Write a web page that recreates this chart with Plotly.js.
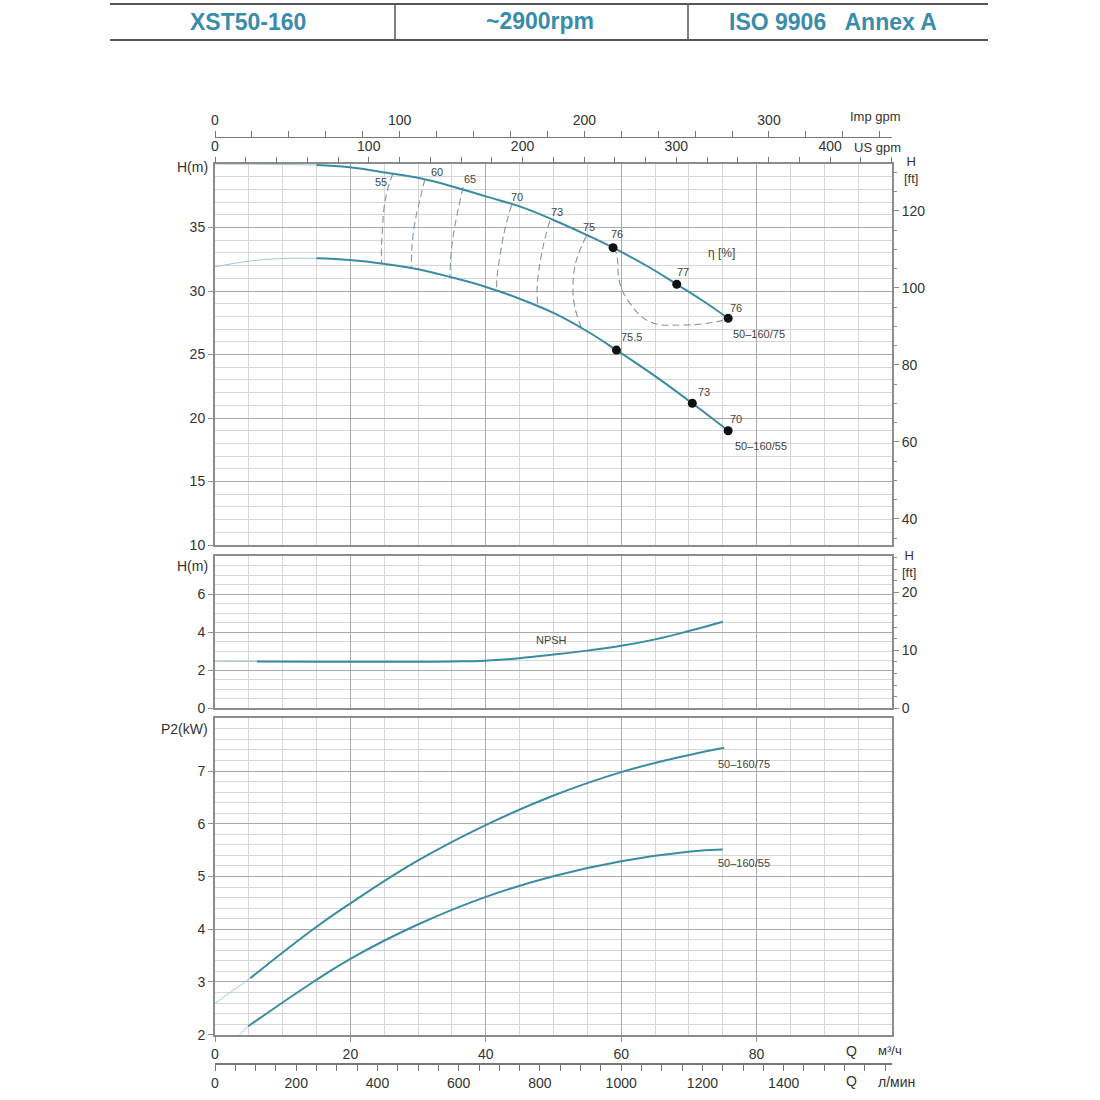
<!DOCTYPE html>
<html>
<head>
<meta charset="utf-8">
<script src="https://cdn.plot.ly/plotly-3.0.1.min.js"></script>
<style>
  html, body { margin: 0; padding: 0; background: #fff; }
  #chart { width: 1100px; height: 1100px; }
</style>
</head>
<body>
<div id="chart"></div>
<script>
// Q in m3/h for every series

// Q-H curves
const qH75Thin = [0, 5, 10, 15];
const hH75Thin = [40.0, 39.99, 39.96, 39.92];
const qH75 = [15, 19.9, 25.4, 30.3, 35.2, 40.1, 45.1, 50.0, 54.9, 58.8, 64.2, 68.2, 72, 75.8];
const hH75 = [39.92, 39.74, 39.31, 38.87, 38.21, 37.43, 36.64, 35.59, 34.41, 33.41, 31.85, 30.53, 29.25, 27.85];

const qH55Thin = [0, 5.2, 10, 15];
const hH55Thin = [31.9, 32.36, 32.56, 32.57];
const qH55 = [15, 19.9, 25.1, 30, 34.9, 39.9, 44.8, 50, 54.9, 59.3, 65, 70.5, 75.8];
const hH55 = [32.57, 32.44, 32.13, 31.71, 31.08, 30.34, 29.43, 28.27, 26.85, 25.35, 23.3, 21.16, 19.0];

// efficiency points on the curves
const pt75Q = [58.8, 68.2, 75.8];
const pt75H = [33.41, 30.53, 27.85];
const pt55Q = [59.3, 70.5, 75.8];
const pt55H = [25.35, 21.16, 19.0];

// iso-efficiency lines
const iso55Q = [26.3, 25.6, 25.0, 24.75, 24.6, 24.6];
const iso55H = [39.27, 38.21, 36.64, 35.06, 33.49, 32.18];
const iso60Q = [31.0, 30.26, 29.5, 29.1, 29.0];
const iso60H = [38.8, 37.17, 35.33, 33.49, 31.87];
const iso65Q = [36.65, 35.9, 35.17, 34.8, 34.7];
const iso65H = [38.17, 36.38, 34.28, 32.44, 31.08];
const iso70Q = [43.8, 42.8, 42.07, 41.67, 41.58];
const iso70H = [36.77, 34.8, 32.7, 31.13, 29.94];
const iso73Q = [49.45, 48.46, 47.72, 47.57, 47.72];
const iso73H = [35.51, 33.49, 31.13, 29.82, 28.64];
const iso75Q = [54.86, 53.39, 52.89, 53.14, 54.36];
const iso75H = [34.33, 32.44, 30.61, 28.76, 26.8];
const iso76Q = [58.8, 59.3, 59.8, 61.3, 64.2, 69.1, 74.1, 75.8];
const iso76H = [33.41, 32.97, 30.61, 29.03, 27.58, 27.32, 27.58, 27.85];

// top panel labels
const effLabelText = ['55', '60', '65', '70', '73', '75', '76', '77', '76', '75.5', '73', '70'];
const effLabelQ = [24.5, 32.77, 37.64, 44.58, 50.48, 55.2, 59.34, 69.2, 76.9, 61.5, 72.2, 76.9];
const effLabelH = [38.58, 39.37, 38.82, 37.4, 36.22, 35.04, 34.49, 31.5, 28.66, 26.4, 22.05, 19.9];

// NPSH
const qNpshThin = [0, 3, 6.2];
const hNpshThin = [2.47, 2.46, 2.46];
const qNpsh = [6.2, 15, 25, 35, 40, 45, 50, 55, 60, 65, 70, 75];
const hNpsh = [2.46, 2.45, 2.45, 2.46, 2.5, 2.63, 2.82, 3.03, 3.28, 3.62, 4.06, 4.55];

// P2 power
const qP75Thin = [0, 5.2];
const pP75Thin = [2.595, 3.07];
const qP75 = [5.2, 14.5, 20, 29.8, 39.9, 50.1, 60, 69.9, 75.2];
const pP75 = [3.07, 4.0, 4.49, 5.29, 5.97, 6.54, 6.98, 7.30, 7.44];
const qP55Thin = [3.5, 4.9];
const pP55Thin = [1.98, 2.16];
const qP55 = [4.9, 14.5, 20, 29.8, 39.9, 50.1, 60, 69.9, 75];
const pP55 = [2.16, 3.0, 3.44, 4.08, 4.61, 5.01, 5.29, 5.47, 5.51];

// tick labels
const qTicks = [0, 20, 40, 60, 80];
const hTicks = [10, 15, 20, 25, 30, 35];
const hFtTicks = [40, 60, 80, 100, 120];
const npshTicks = [0, 2, 4, 6];
const npshFtTicks = [0, 10, 20];
const pTicks = [2, 3, 4, 5, 6, 7];
const usTicks = [0, 100, 200, 300, 400];
const impTicks = [0, 100, 200, 300];
const lminTicks = [0, 200, 400, 600, 800, 1000, 1200, 1400];

// unit conversions
const US_GPM = 4.4029, IMP_GPM = 3.6662, L_MIN = 16.6667, FT = 3.28084;
const Q_MAX = 100;

const CURVE = '#3a8ca3';
const THIN = '#9ccad6';
const DASH = '#7d98a6';
const GRID_MAJ = '#a9a9a9';
const GRID_MIN = '#d6d6d6';
const BORDER = '#8c8c8c';
const TXT = '#333';
const FONT = 'Liberation Sans, Arial, sans-serif';

const px = v => v / 1100;
const py = v => 1 - v / 1100;

function curve(x, y, xa, ya, width, color, dash) {
  return {
    x: x, y: y, xaxis: xa, yaxis: ya, type: 'scatter', mode: 'lines',
    line: { color: color, width: width, dash: dash || 'solid', shape: 'spline', smoothing: 1.2 },
    hoverinfo: 'skip', showlegend: false
  };
}
function empty(xa, ya) {
  return { x: [], y: [], xaxis: xa, yaxis: ya, type: 'scatter', mode: 'lines', hoverinfo: 'skip', showlegend: false };
}

const isoDash = '7px,4px';
const traces = [
  curve(iso55Q, iso55H, 'x', 'y', 1.1, DASH, isoDash),
  curve(iso60Q, iso60H, 'x', 'y', 1.1, DASH, isoDash),
  curve(iso65Q, iso65H, 'x', 'y', 1.1, DASH, isoDash),
  curve(iso70Q, iso70H, 'x', 'y', 1.1, DASH, isoDash),
  curve(iso73Q, iso73H, 'x', 'y', 1.1, DASH, isoDash),
  curve(iso75Q, iso75H, 'x', 'y', 1.1, DASH, isoDash),
  curve(iso76Q, iso76H, 'x', 'y', 1.1, DASH, isoDash),
  curve(qH75Thin, hH75Thin, 'x', 'y', 1, THIN),
  curve(qH75, hH75, 'x', 'y', 2, CURVE),
  curve(qH55Thin, hH55Thin, 'x', 'y', 1, THIN),
  curve(qH55, hH55, 'x', 'y', 2, CURVE),
  {
    x: pt75Q.concat(pt55Q), y: pt75H.concat(pt55H), xaxis: 'x', yaxis: 'y',
    type: 'scatter', mode: 'markers', marker: { color: '#111', size: 9 },
    hoverinfo: 'skip', showlegend: false
  },
  curve(qNpshThin, hNpshThin, 'x2', 'y2', 1, THIN),
  curve(qNpsh, hNpsh, 'x2', 'y2', 2, CURVE),
  curve(qP75Thin, pP75Thin, 'x3', 'y3', 1, THIN),
  curve(qP75, pP75, 'x3', 'y3', 2, CURVE),
  curve(qP55Thin, pP55Thin, 'x3', 'y3', 1, THIN),
  curve(qP55, pP55, 'x3', 'y3', 2, CURVE),
  empty('x4', 'y'), empty('x5', 'y'), empty('x6', 'y3'),
  empty('x', 'y4'), empty('x2', 'y5')
];

const xDomain = [px(215), px(892)];
const tickFont = { family: FONT, size: 14, color: TXT };

function qAxis(anchor, labels) {
  return {
    domain: xDomain, range: [0, Q_MAX], anchor: anchor,
    tickmode: 'array', tickvals: qTicks, showticklabels: labels,
    ticks: labels ? 'outside' : '', ticklen: 5, tickcolor: BORDER,
    tickfont: tickFont, showgrid: true, gridcolor: GRID_MAJ, gridwidth: 1,
    minor: { tickmode: 'linear', tick0: 0, dtick: 5, showgrid: true, gridcolor: GRID_MIN, gridwidth: 1, ticks: '' },
    showline: true, mirror: true, linecolor: BORDER, linewidth: 2, zeroline: false, fixedrange: true
  };
}
function leftAxis(domain, range, vals, minorStep, anchor) {
  return {
    domain: domain, range: range, anchor: anchor,
    tickmode: 'array', tickvals: vals, ticks: 'outside', ticklen: 5, tickcolor: BORDER,
    tickfont: tickFont, showgrid: true, gridcolor: GRID_MAJ, gridwidth: 1,
    minor: { tickmode: 'linear', tick0: 0, dtick: minorStep, showgrid: true, gridcolor: GRID_MIN, gridwidth: 1, ticks: '' },
    showline: true, mirror: true, linecolor: BORDER, linewidth: 2, zeroline: false, fixedrange: true
  };
}
function rightAxis(over, anchor, range, vals, minorStep) {
  return {
    overlaying: over, anchor: anchor, side: 'right', range: range,
    tickmode: 'array', tickvals: vals, ticks: 'outside', ticklen: 6, tickcolor: BORDER,
    tickfont: tickFont, showgrid: false, showline: false, zeroline: false,
    minor: { tickmode: 'linear', tick0: 0, dtick: minorStep, ticks: 'outside', ticklen: 4, tickcolor: BORDER, showgrid: false },
    fixedrange: true
  };
}
function flowAxis(over, range, vals, minorStep, side, anchor, position) {
  const a = {
    overlaying: over, side: side, range: range, domain: xDomain,
    tickmode: 'array', tickvals: vals, ticks: 'outside', ticklen: 6, tickcolor: '#777',
    tickfont: tickFont, showgrid: false, zeroline: false,
    minor: { tickmode: 'linear', tick0: 0, dtick: minorStep, ticks: 'outside', ticklen: 6, tickcolor: '#777', showgrid: false },
    fixedrange: true, anchor: anchor
  };
  if (anchor === 'free') {
    a.position = position;
    a.showline = true; a.linecolor = '#777'; a.linewidth = 1.5;
  } else {
    a.showline = false;
  }
  return a;
}

const xMid = qAxis('y2', false);
xMid.matches = 'x';
const xBot = qAxis('y3', true);
xBot.matches = 'x';

function ann(text, x, y, opts) {
  return Object.assign({
    text: text, x: x, y: y, xref: 'paper', yref: 'paper', showarrow: false,
    font: { family: FONT, size: 13, color: TXT }, xanchor: 'center', yanchor: 'middle'
  }, opts || {});
}

const annotations = [];
// header
const headFont = { family: FONT, size: 23, color: '#3a8cab' };
annotations.push(ann('<b>XST50-160</b>', px(248), py(22), { font: headFont }));
annotations.push(ann('<b>~2900rpm</b>', px(540), py(21), { font: headFont }));
annotations.push(ann('<b>ISO 9906   Annex A</b>', px(833), py(22), { font: headFont }));
// axis unit labels
const labFont = { family: FONT, size: 14, color: TXT };
annotations.push(ann('Imp gpm', px(875), py(117)));
annotations.push(ann('US gpm', px(877), py(148)));
annotations.push(ann('H(m)', px(210), py(167), { xanchor: 'right', font: labFont }));
annotations.push(ann('H<br>[ft]', px(911), py(170)));
annotations.push(ann('H(m)', px(210), py(566), { xanchor: 'right', font: labFont }));
annotations.push(ann('H<br>[ft]', px(909), py(564)));
annotations.push(ann('P2(kW)', px(210), py(729), { xanchor: 'right', font: labFont }));
annotations.push(ann('Q', px(851), py(1051), { font: tickFont }));
annotations.push(ann('м³/ч', px(890), py(1050)));
annotations.push(ann('Q', px(851), py(1081), { font: tickFont }));
annotations.push(ann('л/мин', px(896), py(1082), { font: tickFont }));

// curve labels in data coords
const smallFont = { family: FONT, size: 11, color: '#444' };
effLabelText.forEach((t, i) => {
  annotations.push({
    text: t, x: effLabelQ[i], y: effLabelH[i], xref: 'x', yref: 'y', showarrow: false, font: smallFont
  });
});
annotations.push({ text: 'η [%]', x: 74.8, y: 33.0, xref: 'x', yref: 'y', showarrow: false, font: { family: FONT, size: 12, color: '#444' } });
annotations.push({ text: '50–160/75', x: 80.3, y: 26.6, xref: 'x', yref: 'y', showarrow: false, font: smallFont });
annotations.push({ text: '50–160/55', x: 80.6, y: 17.8, xref: 'x', yref: 'y', showarrow: false, font: smallFont });
annotations.push({ text: 'NPSH', x: 49.7, y: 3.59, xref: 'x2', yref: 'y2', showarrow: false, font: smallFont });
annotations.push({ text: '50–160/75', x: 78.1, y: 7.14, xref: 'x3', yref: 'y3', showarrow: false, font: smallFont });
annotations.push({ text: '50–160/55', x: 78.1, y: 5.26, xref: 'x3', yref: 'y3', showarrow: false, font: smallFont });

const hline = (x0, x1, y, w) => ({ type: 'line', xref: 'paper', yref: 'paper', x0: px(x0), x1: px(x1), y0: py(y), y1: py(y), line: { color: '#555', width: w } });
const vline = (x, y0, y1, w) => ({ type: 'line', xref: 'paper', yref: 'paper', x0: px(x), x1: px(x), y0: py(y0), y1: py(y1), line: { color: '#555', width: w } });
const shapes = [hline(110, 988, 4, 2), hline(110, 988, 40, 2), vline(395, 4, 40, 1.5), vline(688, 4, 40, 1.5)];

const layout = {
  width: 1100, height: 1100,
  margin: { l: 0, r: 0, t: 0, b: 0 },
  paper_bgcolor: '#fff', plot_bgcolor: '#fff',
  showlegend: false, hovermode: false,
  font: { family: FONT, size: 13, color: TXT },
  xaxis: qAxis('y', false),
  xaxis2: xMid,
  xaxis3: xBot,
  xaxis4: flowAxis('x', [0, Q_MAX * US_GPM], usTicks, 20, 'top', 'y'),
  xaxis5: flowAxis('x', [0, Q_MAX * IMP_GPM], impTicks, 20, 'top', 'free', py(136.7)),
  xaxis6: flowAxis('x3', [0, Q_MAX * L_MIN], lminTicks, 50, 'bottom', 'free', py(1063.3)),
  yaxis: leftAxis([py(545), py(164)], [10, 40], hTicks, 1, 'x'),
  yaxis2: leftAxis([py(708.3), py(556)], [0, 8], npshTicks, 0.5, 'x2'),
  yaxis3: leftAxis([py(1034.7), py(718.3)], [2, 8], pTicks, 0.2, 'x3'),
  yaxis4: rightAxis('y', 'x', [33.2, 132.2], hFtTicks, 5),
  yaxis5: rightAxis('y2', 'x2', [0, 8 * FT], npshFtTicks, 2),
  annotations: annotations,
  shapes: shapes
};

Plotly.newPlot('chart', traces, layout, { displayModeBar: false, staticPlot: true });
</script>
</body>
</html>
